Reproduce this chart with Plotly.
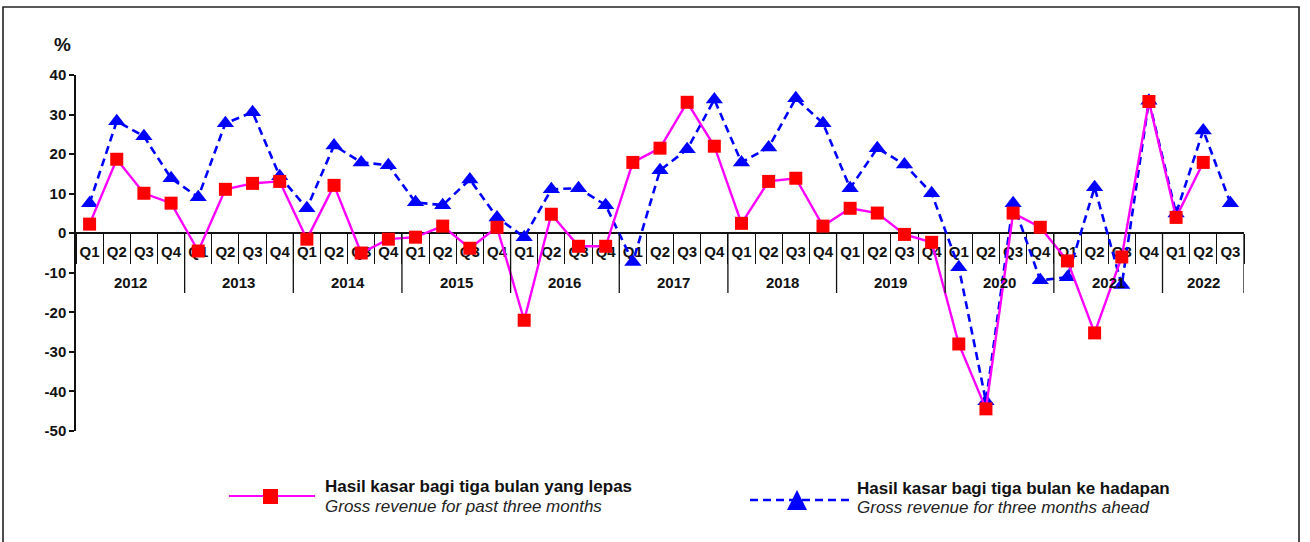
import plotly.graph_objects as go

# ── Data ────────────────────────────────────────────────────────────────────
YEARS = ["2012", "2013", "2014", "2015", "2016", "2017",
         "2018", "2019", "2020", "2021", "2022"]
QUARTERS = ["Q1", "Q2", "Q3", "Q4"]

# Gross revenue for past three months (%), last quarter not yet available
PAST = [2.3, 18.7, 10.1, 7.6, -4.5, 11.1, 12.6, 13.1,
        -1.5, 12.1, -5.0, -1.5, -1.0, 1.8, -3.8, 1.5,
        -22.0, 4.8, -3.3, -3.3, 17.9, 21.5, 33.1, 22.0,
        2.5, 13.1, 13.9, 1.8, 6.3, 5.1, -0.3, -2.3,
        -28.0, -44.4, 5.1, 1.5, -7.0, -25.2, -6.0, 33.3,
        4.0, 17.9, None]

# Gross revenue for three months ahead (%)
AHEAD = [7.6, 28.3, 24.5, 13.9, 9.1, 27.8, 30.6, 14.4,
         6.3, 22.2, 17.9, 17.2, 7.8, 7.1, 13.6, 4.0,
         -1.0, 11.1, 11.4, 7.1, -7.3, 15.9, 21.2, 33.8,
         17.9, 21.7, 34.1, 27.8, 11.4, 21.5, 17.4, 10.1,
         -8.6, -42.5, 7.6, -11.9, -11.1, 11.6, -13.1, 33.5,
         5.0, 26.0, 7.6]

Y_TICKS = [40, 30, 20, 10, 0, -10, -20, -30, -40, -50]

LEGEND_PAST = ("Hasil kasar bagi tiga bulan yang lepas",
               "Gross revenue for past three months")
LEGEND_AHEAD = ("Hasil kasar bagi tiga bulan ke hadapan",
                "Gross revenue for three months ahead")

# one category per quarter; ticks show the quarter, years go underneath
n_points = len(AHEAD)
periods = [f"{QUARTERS[i % 4]} {YEARS[i // 4]}" for i in range(n_points)]
qtr_text = [QUARTERS[i % 4] for i in range(n_points)]

# ── Page geometry (px) ──────────────────────────────────────────────────────
W, H = 1310, 542
ML, MR, MT, MB = 76, 66, 75, 111
PW, PH = W - ML - MR, H - MT - MB
Y_MIN, Y_MAX = -50, 40
ZERO_PX = MT + PH * Y_MAX / (Y_MAX - Y_MIN)   # pixel row of the zero line

FONT = "Liberation Sans, Arial, sans-serif"
INK = "#111"
RED, MAGENTA, BLUE = "#ff0000", "#ff00ff", "#0000ff"


def px(x):
    """pixel x -> paper x"""
    return (x - ML) / PW


def py(y):
    """pixel y -> paper y"""
    return (H - MB - y) / PH


fig = go.Figure()

fig.add_trace(go.Scatter(
    x=periods, y=AHEAD,
    mode="lines+markers",
    line=dict(color=BLUE, width=2.6, dash="8px,5px"),
    marker=dict(symbol="triangle-up", size=15, color=BLUE),
    showlegend=False,
))
fig.add_trace(go.Scatter(
    x=periods, y=PAST,
    mode="lines+markers",
    line=dict(color=MAGENTA, width=2.4),
    marker=dict(symbol="square", size=13, color=RED),
    showlegend=False,
))

shapes = [
    # outer frame
    dict(type="rect", xref="paper", yref="paper",
         x0=px(3), x1=px(1299), y0=py(548), y1=py(7),
         line=dict(color="#222", width=1.6)),
]
annotations = [
    dict(text="<b>%</b>", xref="paper", yref="paper",
         x=px(62), y=py(45), xanchor="center", yanchor="middle",
         showarrow=False, font=dict(size=19, color=INK, family=FONT)),
]

# ── Year row under the quarter labels, with long dividers ───────────────────
for k, yr in enumerate(YEARS):
    idx = [i for i in range(n_points) if i // 4 == k]
    annotations.append(dict(
        text=f"<b>{yr}</b>", xref="x", yref="paper",
        x=sum(idx) / len(idx), y=py(282),
        xanchor="center", yanchor="middle", showarrow=False,
        font=dict(size=15, color=INK, family=FONT)))
    shapes.append(dict(
        type="line", xref="x", yref="paper",
        x0=idx[-1] + 0.5, x1=idx[-1] + 0.5,
        y0=py(ZERO_PX), y1=py(293),
        line=dict(color=INK, width=1.3)))

# ── Hand-made legend (long sample lines like the original) ──────────────────
shapes += [
    dict(type="line", xref="paper", yref="paper",
         x0=px(229), x1=px(315), y0=py(496), y1=py(496),
         line=dict(color=MAGENTA, width=2)),
    dict(type="rect", xref="paper", yref="paper",
         x0=px(263), x1=px(278), y0=py(504), y1=py(489),
         fillcolor=RED, line=dict(width=0)),
    dict(type="line", xref="paper", yref="paper",
         x0=px(750), x1=px(850), y0=py(500), y1=py(500),
         line=dict(color=BLUE, width=2.4, dash="8px,5px")),
    dict(type="path", xref="paper", yref="paper",
         path=(f"M {px(787)} {py(510)} L {px(807)} {py(510)} "
               f"L {px(797)} {py(490)} Z"),
         fillcolor=BLUE, line=dict(width=0)),
]
for (bold, italic), x0, y0 in [(LEGEND_PAST, 323, 486),
                               (LEGEND_AHEAD, 855, 488)]:
    annotations.append(dict(
        text=f"<b>{bold}</b>", xref="paper", yref="paper",
        x=px(x0), y=py(y0), xanchor="left", yanchor="middle",
        showarrow=False, font=dict(size=17, color=INK, family=FONT)))
    annotations.append(dict(
        text=f"<i>{italic}</i>", xref="paper", yref="paper",
        x=px(x0), y=py(y0 + 20), xanchor="left", yanchor="middle",
        showarrow=False, font=dict(size=17, color="#222", family=FONT)))

fig.update_layout(
    width=W, height=H,
    template="none",
    paper_bgcolor="white", plot_bgcolor="white",
    margin=dict(l=ML, r=MR, t=MT, b=MB),
    font=dict(family=FONT, color=INK),
    xaxis=dict(
        type="category",
        range=[-0.5, n_points - 0.5],
        tickvals=periods, ticktext=qtr_text,
        automargin=False,
        anchor="free",
        position=(0 - Y_MIN) / (Y_MAX - Y_MIN),   # axis sits on the zero line
        showline=True, linecolor=INK, linewidth=1.5,
        ticks="outside", tickson="boundaries", ticklen=30,
        tickcolor=INK, tickwidth=1.3, tickangle=0,
        ticklabelstandoff=5,
        tickfont=dict(size=15, color=INK, weight="bold"),
        showgrid=False,
        layer="below traces",
    ),
    yaxis=dict(
        range=[Y_MIN, Y_MAX],
        automargin=False,
        tickvals=Y_TICKS,
        ticktext=[str(v) for v in Y_TICKS],   # plain hyphen, as in the source
        ticks="outside", ticklen=5, tickcolor=INK, tickwidth=1.5,
        showline=True, linecolor=INK, linewidth=1.5,
        showgrid=False, zeroline=False,
        tickfont=dict(size=15, color=INK, weight="bold"),
    ),
    shapes=shapes,
    annotations=annotations,
)

# the page's default 8px body margin would push the figure off the window
fig.write_html("out.html", config={"displayModeBar": False},
               post_script="document.body.style.margin = '0px';")
